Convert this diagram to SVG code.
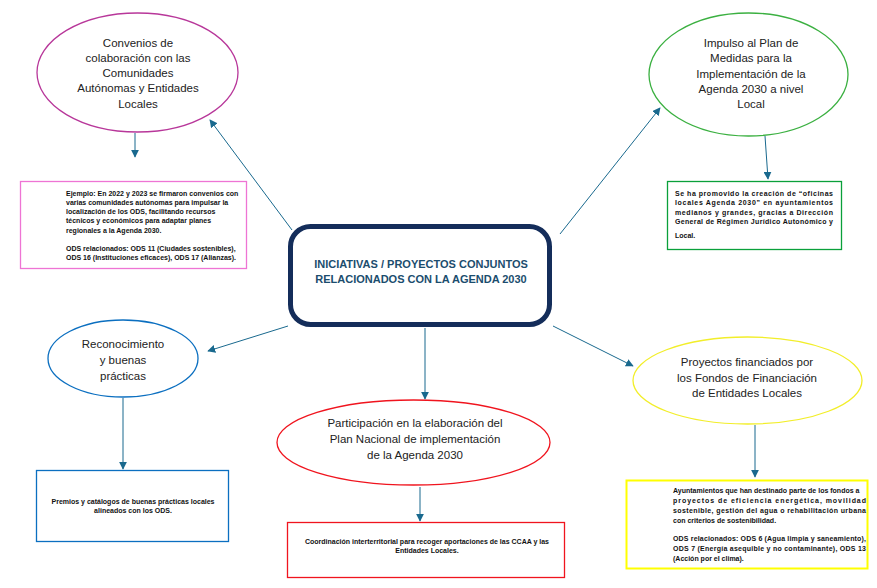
<svg xmlns="http://www.w3.org/2000/svg" width="877" height="588" viewBox="0 0 877 588">
<style>
.el{fill:#fff;stroke-width:1.3}
.bx{fill:#fff;stroke-width:1.3}
.t{font-family:"Liberation Sans",Arial,sans-serif;font-size:11.5px;fill:#222;text-anchor:middle}
.s{font-family:"Liberation Sans",Arial,sans-serif;font-size:7px;font-weight:bold;fill:#111}
.c{text-anchor:middle}
.h{font-family:"Liberation Sans",Arial,sans-serif;font-size:11px;font-weight:bold;fill:#1B4D6E;text-anchor:middle}
.cn line{stroke:#19698E;stroke-width:1;marker-end:url(#ah)}
</style>
<defs>
<marker id="ah" viewBox="0 0 10 10" refX="9" refY="5" markerWidth="8" markerHeight="8" markerUnits="userSpaceOnUse" orient="auto">
<path d="M0,0 L10,5 L0,10 z" fill="#19698E"/>
</marker>
</defs>
<rect width="877" height="588" fill="#fff"/>
<g id="connectors" class="cn">
<line x1="292" y1="230" x2="210" y2="120"/>
<line x1="135" y1="133" x2="135" y2="157"/>
<line x1="560" y1="234" x2="660" y2="108"/>
<line x1="765" y1="136" x2="768" y2="179"/>
<line x1="288" y1="326" x2="208" y2="351"/>
<line x1="425" y1="328" x2="425" y2="399"/>
<line x1="123" y1="398" x2="123" y2="469"/>
<line x1="553" y1="326" x2="633" y2="366"/>
<line x1="755" y1="425" x2="755" y2="477"/>
<line x1="420" y1="487" x2="420" y2="521"/>
</g>
<g id="center">
<rect x="290.5" y="226.5" width="259" height="98" rx="20" fill="#fff" stroke="#142D5A" stroke-width="5"/>
<text class="h" x="421" y="267.5">INICIATIVAS / PROYECTOS CONJUNTOS</text>
<text class="h" x="421" y="282.5">RELACIONADOS CON LA AGENDA 2030</text>
</g>
<g id="convenios">
<ellipse class="el" cx="137.5" cy="72.5" rx="100.5" ry="59.5" stroke="#B8379A"/>
<text class="t" x="138" y="46.5">Convenios de</text>
<text class="t" x="138" y="61.8">colaboración con las</text>
<text class="t" x="138" y="77.1">Comunidades</text>
<text class="t" x="138" y="92.4">Autónomas y Entidades</text>
<text class="t" x="138" y="107.7">Locales</text>
</g>
<g id="convenios-ejemplo">
<rect class="bx" x="20.5" y="181.5" width="226" height="87" stroke="#EE74D4"/>
<text class="s" x="66" y="195.5">Ejemplo: En 2022 y 2023 se firmaron convenios con</text>
<text class="s" x="66" y="204.8">varias comunidades autónomas para impulsar la</text>
<text class="s" x="66" y="214.1">localización de los ODS, facilitando recursos</text>
<text class="s" x="66" y="223.4">técnicos y económicos para adaptar planes</text>
<text class="s" x="66" y="232.7">regionales a la Agenda 2030.</text>
<text class="s" x="66" y="250.7">ODS relacionados: ODS 11 (Ciudades sostenibles),</text>
<text class="s" x="66" y="260.2">ODS 16 (Instituciones eficaces), ODS 17 (Alianzas).</text>
</g>
<g id="impulso">
<ellipse class="el" cx="748.5" cy="74.5" rx="99.5" ry="61.5" stroke="#3BB041"/>
<text class="t" x="751" y="47">Impulso al Plan de</text>
<text class="t" x="751" y="62.3">Medidas para la</text>
<text class="t" x="751" y="77.6">Implementación de la</text>
<text class="t" x="751" y="92.9">Agenda 2030 a nivel</text>
<text class="t" x="751" y="108.2">Local</text>
</g>
<g id="impulso-detalle">
<rect class="bx" x="667.5" y="181.5" width="174" height="68" stroke="#0AA03A"/>
<text class="s" x="675" y="195.7" textLength="158" lengthAdjust="spacing">Se ha promovido la creación de “oficinas</text>
<text class="s" x="675" y="205.2" textLength="158" lengthAdjust="spacing">locales Agenda 2030” en ayuntamientos</text>
<text class="s" x="675" y="214.7" textLength="158" lengthAdjust="spacing">medianos y grandes, gracias a Dirección</text>
<text class="s" x="675" y="224.2" textLength="158" lengthAdjust="spacing">General de Régimen Jurídico Autonómico y</text>
<text class="s" x="675" y="237.7">Local.</text>
</g>
<g id="reconocimiento">
<ellipse class="el" cx="123" cy="358.5" rx="75" ry="38.5" stroke="#0B6FC0"/>
<text class="t" x="123" y="348">Reconocimiento</text>
<text class="t" x="123" y="364">y buenas</text>
<text class="t" x="123" y="380">prácticas</text>
</g>
<g id="reconocimiento-detalle">
<rect class="bx" x="36.5" y="470.5" width="192" height="71" stroke="#0B6FC0"/>
<text class="s c" x="133" y="503.6">Premios y catálogos de buenas prácticas locales</text>
<text class="s c" x="133" y="513.2">alineados con los ODS.</text>
</g>
<g id="participacion">
<ellipse class="el" cx="413.5" cy="442.5" rx="136.5" ry="42.5" stroke="#F0141E"/>
<text class="t" x="415" y="427">Participación en la elaboración del</text>
<text class="t" x="415" y="442.5">Plan Nacional de implementación</text>
<text class="t" x="415" y="458.5">de la Agenda 2030</text>
</g>
<g id="participacion-detalle">
<rect class="bx" x="287.5" y="522.5" width="277" height="55" stroke="#F0141E"/>
<text class="s c" x="427" y="543.8">Coordinación interterritorial para recoger aportaciones de las CCAA y las</text>
<text class="s c" x="427" y="552.8">Entidades Locales.</text>
</g>
<g id="proyectos">
<ellipse class="el" cx="747.5" cy="380.5" rx="114.5" ry="43.5" stroke="#F2EE2A"/>
<text class="t" x="747" y="366">Proyectos financiados por</text>
<text class="t" x="747" y="381.5">los Fondos de Financiación</text>
<text class="t" x="747" y="397">de Entidades Locales</text>
</g>
<g id="proyectos-detalle">
<rect x="626.5" y="480.5" width="241" height="88" fill="#fff" stroke="#FFFF00" stroke-width="2"/>
<text class="s" x="673" y="492.5">Ayuntamientos que han destinado parte de los fondos a</text>
<text class="s" x="673" y="502.5" textLength="193" lengthAdjust="spacing">proyectos de eficiencia energética, movilidad</text>
<text class="s" x="673" y="512.5" textLength="193" lengthAdjust="spacing">sostenible, gestión del agua o rehabilitación urbana</text>
<text class="s" x="673" y="522.5">con criterios de sostenibilidad.</text>
<text class="s" x="673" y="540.5" textLength="193" lengthAdjust="spacing">ODS relacionados: ODS 6 (Agua limpia y saneamiento),</text>
<text class="s" x="673" y="550.5" textLength="193" lengthAdjust="spacing">ODS 7 (Energía asequible y no contaminante), ODS 13</text>
<text class="s" x="673" y="560.5">(Acción por el clima).</text>
</g>
</svg>
